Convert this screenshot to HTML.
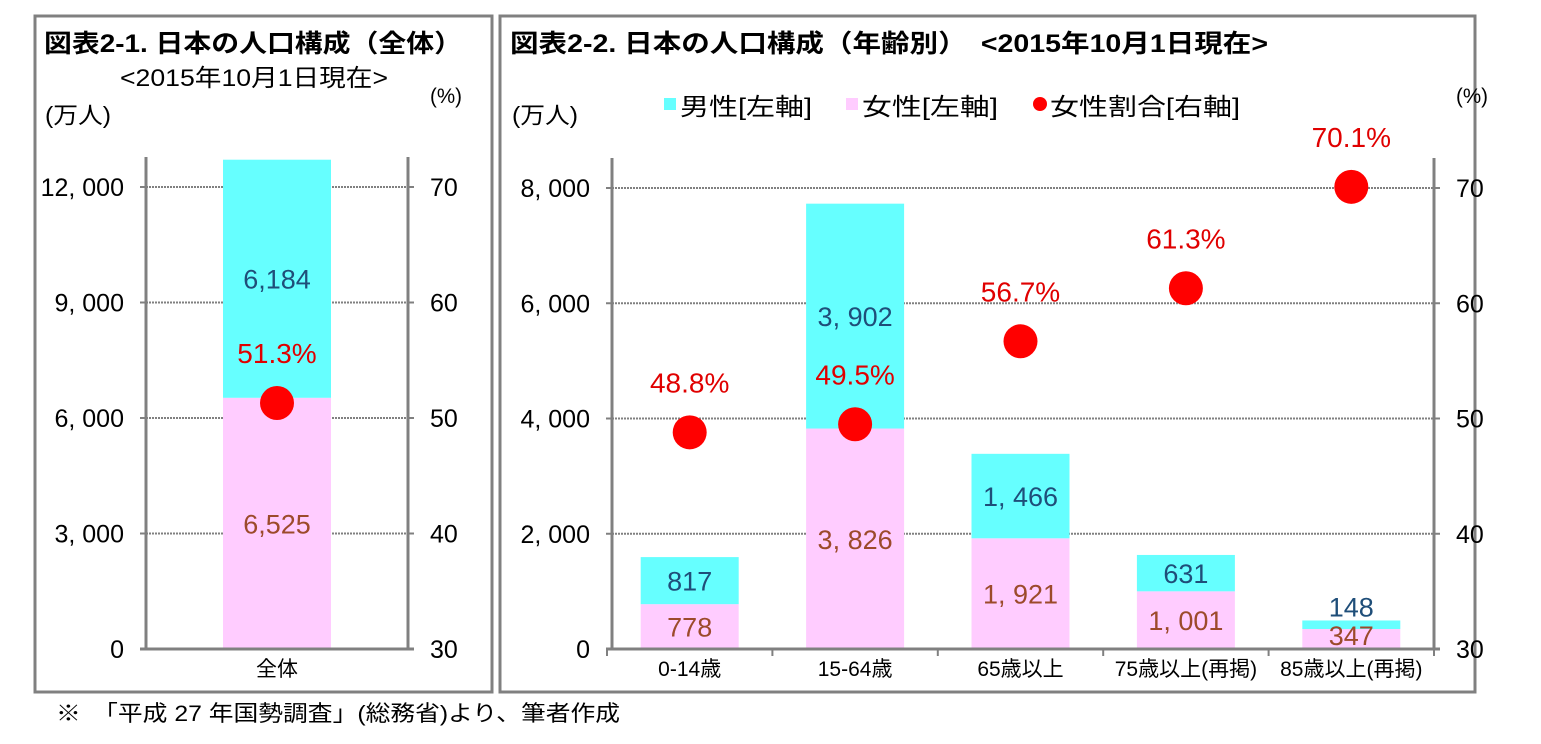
<!DOCTYPE html>
<html><head><meta charset="utf-8">
<style>
body{margin:0;background:#fff;width:1541px;height:739px;overflow:hidden}
svg{font-family:"Liberation Sans","Noto Sans CJK JP",sans-serif}
</style></head><body>
<svg id="c" width="1541" height="739" xmlns="http://www.w3.org/2000/svg">
<rect x="35" y="16" width="457" height="676" fill="none" stroke="#808080" stroke-width="3"/>
<rect x="500" y="16" width="975" height="676" fill="none" stroke="#808080" stroke-width="3"/>
<text x="44" y="52" font-size="25" font-weight="bold" textLength="418" lengthAdjust="spacingAndGlyphs">図表2-1.  日本の人口構成（全体）</text>
<text x="120" y="86" font-size="24" textLength="268" lengthAdjust="spacingAndGlyphs">&lt;2015年10月1日現在&gt;</text>
<text x="45" y="123" font-size="23" textLength="66" lengthAdjust="spacingAndGlyphs">(万人)</text>
<text x="430" y="103" font-size="21" textLength="32" lengthAdjust="spacingAndGlyphs">(%)</text>
<text x="510" y="52" font-size="25" font-weight="bold" textLength="758" lengthAdjust="spacingAndGlyphs">図表2-2.  日本の人口構成（年齢別）　&lt;2015年10月1日現在&gt;</text>
<text x="512" y="123" font-size="23" textLength="66" lengthAdjust="spacingAndGlyphs">(万人)</text>
<text x="1456" y="103" font-size="21" textLength="32" lengthAdjust="spacingAndGlyphs">(%)</text>
<g>
<rect x="664" y="98" width="12" height="12" fill="#66FFFF"/>
<text x="680" y="115" font-size="24" textLength="132" lengthAdjust="spacingAndGlyphs">男性[左軸]</text>
<rect x="846" y="98" width="12" height="12" fill="#FFCCFF"/>
<text x="862" y="115" font-size="24" textLength="136" lengthAdjust="spacingAndGlyphs">女性[左軸]</text>
<circle cx="1040" cy="104" r="7" fill="#FF0000"/>
<text x="1050" y="115" font-size="24" textLength="190" lengthAdjust="spacingAndGlyphs">女性割合[右軸]</text>
</g>
<text x="56" y="721" font-size="22" textLength="564" lengthAdjust="spacingAndGlyphs">※　「平成 27 年国勢調査」(総務省)より、筆者作成</text>
</svg>
<script>
const leftCats=["全体"];
const leftMale=[6184];
const leftFemale=[6525];
const leftRatio=[51.3];
const leftTicks=[0,3000,6000,9000,12000];
const cats=["0-14歳","15-64歳","65歳以上","75歳以上(再掲)","85歳以上(再掲)"];
const male=[817,3902,1466,631,148];
const female=[778,3826,1921,1001,347];
const ratio=[48.8,49.5,56.7,61.3,70.1];
const rightTicks=[0,2000,4000,6000,8000];
const pctTicks=[30,40,50,60,70];
const svg=document.getElementById('c');
const NS="http://www.w3.org/2000/svg";
function mk(tag,attrs,name,text){const e=document.createElementNS(NS,tag);for(const k in attrs)e.setAttribute(k,attrs[k]);


if(text!==undefined)e.textContent=text;svg.appendChild(e);return e;}
function chart(o){
 const fmt=v=>v.toLocaleString('en-US').replace(',',o.sep);
 const y=v=>o.y0-(v/o.ymax)*(o.y0-o.ytop);
 const y2=v=>o.y0-((v-30)/40)*(o.y0-o.ytop);
 const n=o.cats.length,bw=(o.x1-o.cx0)/n;
 o.ticks.forEach((t,i)=>{
  if(t>0)mk('line',{x1:o.x0,x2:o.x1,y1:y(t),y2:y(t),stroke:'#808080','stroke-width':2,'stroke-dasharray':'2,1'},'gridline');
  mk('line',{x1:o.x0-6,x2:o.x0,y1:y(t),y2:y(t),stroke:'#808080','stroke-width':2},'y-tick');
  mk('text',{x:o.x0-22,y:y(t)+9,'font-size':25,'text-anchor':'end'},'y-tick-label',t===0?'0':t.toLocaleString('en-US').replace(',',', '));
 });
 pctTicks.forEach(t=>{
  mk('line',{x1:o.x1,x2:o.x1+6,y1:y2(t),y2:y2(t),stroke:'#808080','stroke-width':2},'y2-tick');
  mk('text',{x:o.x1+22,y:y2(t)+9,'font-size':25},'y2-tick-label',String(t));
 });
 o.cats.forEach((c,i)=>{
  const cx=o.cx0+bw*(i+0.5),w=o.barW;
  const f=o.female[i],m=o.male[i];
  mk('rect',{x:cx-w/2,y:y(f),width:w,height:o.y0-y(f),fill:'#FFCCFF'},'bar-female');
  mk('rect',{x:cx-w/2,y:y(f+m),width:w,height:y(f)-y(f+m),fill:'#66FFFF'},'bar-male');
  const small=(y(f)-y(f+m))<30;
  mk('text',{x:cx,y:small?y(f+m)-4:(y(f)+y(f+m))/2+10,'font-size':27,'text-anchor':'middle',fill:'#1F4E79'},'male-label',fmt(m));
  mk('text',{x:cx,y:small?o.y0-4:(o.y0+y(f))/2+10,'font-size':27,'text-anchor':'middle',fill:'#9C4A2B'},'female-label',fmt(f));
  mk('circle',{cx:cx,cy:y2(o.ratio[i]),r:17,fill:'#FF0000'},'ratio-point');
  mk('text',{x:cx,y:y2(o.ratio[i])-40,'font-size':28,'text-anchor':'middle',fill:'#E00000'},'ratio-label',o.ratio[i].toFixed(1)+'%');
  mk('text',{x:cx,y:o.y0+27,'font-size':21,'text-anchor':'middle'},'x-tick-label',c);
  if(n>1){mk('line',{x1:o.cx0+bw*i,x2:o.cx0+bw*i,y1:o.y0,y2:o.y0+7,stroke:'#808080','stroke-width':2},'x-tick');}
 });
 if(n>1)mk('line',{x1:o.x1,x2:o.x1,y1:o.y0,y2:o.y0+7,stroke:'#808080','stroke-width':2},'x-tick');
 mk('line',{x1:o.x0,x2:o.x0,y1:o.ytop-30,y2:o.y0,stroke:'#808080','stroke-width':3},'y-axis');
 mk('line',{x1:o.x1,x2:o.x1,y1:o.ytop-30,y2:o.y0,stroke:'#808080','stroke-width':3},'y2-axis');
 mk('line',{x1:o.x0-6,x2:o.x1+6,y1:o.y0,y2:o.y0,stroke:'#808080','stroke-width':3},'x-axis');
}
chart({x0:146,cx0:146,x1:408,y0:649,ytop:187,ymax:12000,ticks:leftTicks,cats:leftCats,male:leftMale,female:leftFemale,ratio:leftRatio,barW:108,sep:','});
chart({x0:612,cx0:607,x1:1434,y0:649,ytop:188,ymax:8000,ticks:rightTicks,cats:cats,male:male,female:female,ratio:ratio,barW:98,sep:', '});
</script>
</body></html>
